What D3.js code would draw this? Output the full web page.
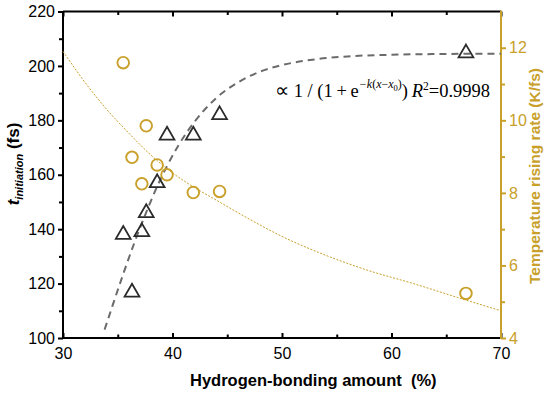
<!DOCTYPE html>
<html><head><meta charset="utf-8">
<script src="https://cdn.jsdelivr.net/npm/d3@7"></script>
<style>
body{margin:0;background:#fff;}
svg{display:block;font-family:"Liberation Sans",Arial,sans-serif;}
</style></head>
<body><svg id="c" width="550" height="396"></svg>
<script>
// Data
const hbAmount   = [35.5, 36.3, 37.2, 37.6, 38.6, 39.5, 41.9, 44.3, 66.8];
const tInit      = [138, 116.8, 139, 146, 157, 174.5, 174.5, 182, 204.7];
const tempRate   = [11.59, 8.98, 8.25, 9.85, 8.77, 8.5, 8.01, 8.04, 5.23];
// fitted sigmoid curve
const sigX = [33.8, 34.5, 35.5, 36.5, 37.5, 38.5, 39.5, 40.5, 42, 44, 46, 48, 50, 53, 56, 60, 65, 70];
const sigY = [103.1, 111.6, 123.5, 134.8, 145.2, 154.8, 163.2, 170.5, 179.4, 188.2, 194.0, 197.9, 200.3, 202.4, 203.5, 204.1, 204.4, 204.5];
// decay fit for temperature rising rate
const decX = [30, 32, 34, 36, 38, 40, 42, 44, 47, 50, 54, 58, 62, 66, 70];
const decY = [11.9, 11.05, 10.3, 9.65, 9.05, 8.55, 8.15, 7.8, 7.28, 6.8, 6.28, 5.85, 5.5, 5.12, 4.75];
const xMajor = [30, 40, 50, 60, 70];
const xMinor = [35, 45, 55, 65];
const yMajor = [100, 120, 140, 160, 180, 200, 220];
const yMinor = [110, 130, 150, 170, 190, 210];
const y2Major = [4, 6, 8, 10, 12];
const y2Minor = [5, 7, 9, 11];

const gold = "#C8A02A";
const svg = d3.select("#c");
const L = 63, R = 501, T = 11.5, B = 338;
const x = d3.scaleLinear().domain([30, 70]).range([L, R]);
const y = d3.scaleLinear().domain([100, 220]).range([B, T]);
const y2 = d3.scaleLinear().domain([4, 13]).range([B, T]);

function styleAxis(g, color){
  g.select(".domain").remove();
  g.selectAll("line").attr("stroke", color).attr("stroke-width", 2);
  g.selectAll("text").attr("fill", color).attr("font-size", 16);
}
// top axis (ticks inward)
svg.append("g").attr("transform",`translate(0,${T})`)
  .call(d3.axisTop(x).tickValues(xMajor).tickSize(-5).tickFormat(""))
  .call(g=>styleAxis(g,"#000"));
svg.append("g").attr("transform",`translate(0,${T})`)
  .call(d3.axisTop(x).tickValues(xMinor).tickSize(-3.5).tickFormat(""))
  .call(g=>styleAxis(g,"#000"));
// bottom axis (ticks inward)
svg.append("g").attr("transform",`translate(0,${B})`)
  .call(d3.axisBottom(x).tickValues(xMajor).tickSizeInner(-5).tickSizeOuter(0).tickPadding(10).tickFormat(d3.format("d")))
  .call(g=>styleAxis(g,"#000"));
svg.append("g").attr("transform",`translate(0,${B})`)
  .call(d3.axisBottom(x).tickValues(xMinor).tickSize(-3.5).tickFormat(""))
  .call(g=>styleAxis(g,"#000"));
// left axis (ticks outward)
svg.append("g").attr("transform",`translate(${L},0)`)
  .call(d3.axisLeft(y).tickValues(yMajor).tickSize(5).tickPadding(3).tickFormat(d3.format("d")))
  .call(g=>styleAxis(g,"#000"));
svg.append("g").attr("transform",`translate(${L},0)`)
  .call(d3.axisLeft(y).tickValues(yMinor).tickSize(4).tickFormat(""))
  .call(g=>styleAxis(g,"#000"));
// right axis (ticks outward, gold)
svg.append("g").attr("transform",`translate(${R},0)`)
  .call(d3.axisRight(y2).tickValues(y2Major).tickSize(5).tickPadding(3).tickFormat(d3.format("d")))
  .call(g=>styleAxis(g,gold));
svg.append("g").attr("transform",`translate(${R},0)`)
  .call(d3.axisRight(y2).tickValues(y2Minor).tickSize(4).tickFormat(""))
  .call(g=>styleAxis(g,gold));

// frame
svg.append("line").attr("x1",L).attr("x2",R).attr("y1",T).attr("y2",T).attr("stroke","#000").attr("stroke-width",2);
svg.append("line").attr("x1",L).attr("x2",R).attr("y1",B).attr("y2",B).attr("stroke","#000").attr("stroke-width",2);
svg.append("line").attr("x1",L).attr("x2",L).attr("y1",T).attr("y2",B).attr("stroke","#000").attr("stroke-width",2);
svg.append("line").attr("x1",R).attr("x2",R).attr("y1",T-1).attr("y2",B+1).attr("stroke",gold).attr("stroke-width",2);

// curves
const sigLine = d3.line().x(d=>x(d[0])).y(d=>y(d[1])).curve(d3.curveMonotoneX);
svg.append("path").datum(sigX.map((v,i)=>[v,sigY[i]]))
  .attr("d",sigLine).attr("fill","none").attr("stroke","#6b6b6b").attr("stroke-width",2)
  .attr("stroke-dasharray","7,5");
const decLine = d3.line().x(d=>x(d[0])).y(d=>y2(d[1])).curve(d3.curveMonotoneX);
svg.append("path").datum(decX.map((v,i)=>[v,decY[i]]))
  .attr("d",decLine).attr("fill","none").attr("stroke",gold).attr("stroke-width",1)
  .attr("stroke-dasharray","2,1.5");

// points
const tri = d3.symbol().type(d3.symbolTriangle).size(95);
svg.append("g").selectAll("path").data(hbAmount).join("path")
  .attr("d",tri).attr("transform",(d,i)=>`translate(${x(d)},${y(tInit[i])})`)
  .attr("fill","none").attr("stroke","#2b2b2b").attr("stroke-width",1.8);
svg.append("g").selectAll("circle").data(hbAmount).join("circle")
  .attr("cx",d=>x(d)).attr("cy",(d,i)=>y2(tempRate[i])).attr("r",5.8)
  .attr("fill","none").attr("stroke",gold).attr("stroke-width",1.9);

// annotation
const ann = svg.append("text").attr("x",275).attr("y",97).attr("xml:space","preserve").style("white-space","pre")
  .attr("font-family","'Liberation Serif','Times New Roman',serif").attr("font-size",18.5).attr("fill","#000");
ann.append("tspan").attr("font-size",20).text("\u221D");
ann.append("tspan").text(" 1 / (1\u2009+\u2009e");
ann.append("tspan").attr("font-size",12).attr("dy",-9).attr("font-style","italic").text("\u2212k");
ann.append("tspan").attr("font-size",12).text("(");
ann.append("tspan").attr("font-size",12).attr("font-style","italic").text("x");
ann.append("tspan").attr("font-size",12).text("\u2212");
ann.append("tspan").attr("font-size",12).attr("font-style","italic").text("x");
ann.append("tspan").attr("font-size",8.5).attr("dy",3).text("0");
ann.append("tspan").attr("font-size",12).attr("dy",-3).text(")");
ann.append("tspan").attr("dy",9).text(")\u2009");
ann.append("tspan").attr("font-style","italic").text("R");
ann.append("tspan").attr("font-size",11.5).attr("dy",-7).text("2");
ann.append("tspan").attr("dy",7).text("=0.9998");

// axis titles
svg.append("text").attr("x",190).attr("y",386).attr("font-size",16.5).attr("font-weight","bold")
  .attr("fill","#000").attr("xml:space","preserve").style("white-space","pre").text("Hydrogen-bonding amount  (%)");
const yl = svg.append("text").attr("transform","translate(19,164) rotate(-90)").attr("text-anchor","middle")
  .attr("font-size",17).attr("font-weight","bold").attr("fill","#000");
yl.append("tspan").attr("font-style","italic").text("t");
yl.append("tspan").attr("font-style","italic").attr("font-size",11).attr("dy",4).text("initiation");
yl.append("tspan").attr("dy",-4).text(" (fs)");
svg.append("text").attr("transform","translate(540,176) rotate(-90)").attr("text-anchor","middle")
  .attr("font-size",15.5).attr("font-weight","bold").attr("fill",gold).text("Temperature rising rate (K/fs)");
</script></body></html>
